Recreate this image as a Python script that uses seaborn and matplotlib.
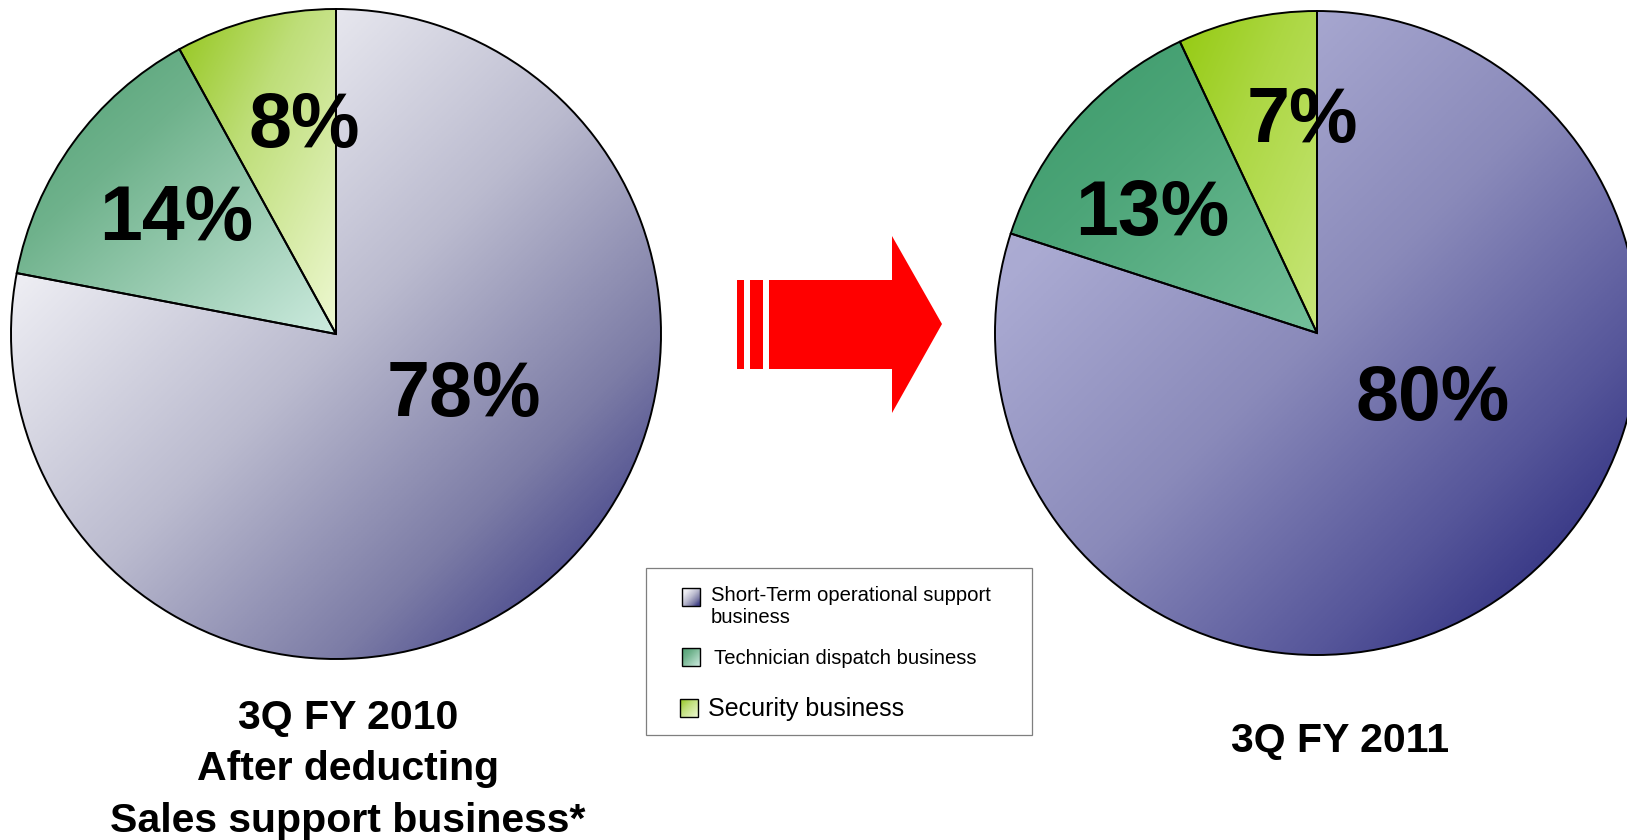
import numpy as np
import pandas as pd
import matplotlib
matplotlib.use("Agg")
import matplotlib.pyplot as plt
import seaborn as sns
from matplotlib.colors import LinearSegmentedColormap
from matplotlib.patches import Rectangle, Polygon

# ---------------- data ----------------
categories = ["Short-Term operational support business",
              "Technician dispatch business",
              "Security business"]
legend_labels = ["Short-Term operational support\nbusiness",
                 "Technician dispatch business",
                 "Security business"]
share_2010 = [78, 14, 8]
share_2011 = [80, 13, 7]
title_2010 = ["3Q FY 2010", "After deducting", "Sales support business*"]
title_2011 = ["3Q FY 2011"]

df = pd.DataFrame({"category": categories, "FY2010": share_2010, "FY2011": share_2011})

# ---------------- style ----------------
sns.set_theme(style="white")
plt.rcParams["font.family"] = ["Liberation Sans", "DejaVu Sans"]

W, H = 1627, 840
fig = plt.figure(figsize=(W / 100, H / 100), dpi=100)
fig.patch.set_facecolor("white")


def px_axes(left, top, w, h):
    return fig.add_axes([left / W, 1 - (top + h) / H, w / W, h / H])


def cmap_from(stops):
    return LinearSegmentedColormap.from_list("g", stops)


# gradient colour stops (PowerPoint-like diagonal fills)
grad_2010 = [
    [(0.0, "#F6F6F9"), (0.22, "#ECECF2"), (0.5, "#BBBBCF"), (0.75, "#7C7CA6"), (0.9, "#44448A"), (1.0, "#383884")],
    [(0.0, "#4E9F72"), (0.35, "#6FB28C"), (1.0, "#CDEBDF")],
    [(0.0, "#94C61C"), (0.4, "#BEDE78"), (1.0, "#EEF8D2")],
]
grad_2011 = [
    [(0.0, "#B4B4D8"), (0.22, "#AAAAD2"), (0.5, "#8A8ABA"), (0.75, "#56569A"), (0.92, "#2C2C7E"), (1.0, "#28287A")],
    [(0.0, "#3A9868"), (0.4, "#4CA578"), (1.0, "#74C09A")],
    [(0.0, "#94CA10"), (0.4, "#ACD742"), (1.0, "#C8E67A")],
]


def gradient_image(cmap, n=300):
    u = np.linspace(0, 1, n)
    X, Y = np.meshgrid(u, u)  # Y: 0 at top row
    t = (X + Y) / 2.0
    return cmap(t)


def fill_gradient(ax, patch, cmap, extent=None):
    if extent is None:
        v = patch.get_path().vertices
        x0, y0 = v.min(axis=0)
        x1, y1 = v.max(axis=0)
        extent = (x0, x1, y0, y1)
    img = gradient_image(cmap)
    im = ax.imshow(img, extent=extent, origin="upper", aspect="auto",
                   zorder=patch.get_zorder() - 0.5, interpolation="bilinear")
    im.set_clip_path(patch)
    return im


def draw_pie(ax, values, grads, labels_xy):
    wedges, _ = ax.pie(values, startangle=90, counterclock=False, radius=1,
                       wedgeprops=dict(edgecolor="black", linewidth=1.4))
    for w, g in zip(wedges, grads):
        w.set_facecolor("none")
        w.set_zorder(3)
        fill_gradient(ax, w, cmap_from(g))
    for v, (x, y) in zip(values, labels_xy):
        ax.text(x, y, f"{v}%", ha="center", va="baseline", fontsize=55.5,
                fontweight="bold", color="black", zorder=5)
    ax.set_xlim(-1.01, 1.01)
    ax.set_ylim(-1.01, 1.01)
    ax.set_aspect("equal")
    ax.axis("off")


# layout: pie label anchor positions (in pie radius units)
lab_2010 = [(0.394, -0.252), (-0.492, 0.289), (-0.098, 0.575)]
lab_2011 = [(0.36, -0.269), (-0.513, 0.305), (-0.044, 0.592)]

r1, c1 = 325, (336, 334)
ax1 = px_axes(c1[0] - r1 * 1.01, c1[1] - r1 * 1.01, 2 * r1 * 1.01, 2 * r1 * 1.01)
draw_pie(ax1, df["FY2010"].tolist(), grad_2010, lab_2010)

r2, c2 = 322, (1317, 333)
ax2 = px_axes(c2[0] - r2 * 1.01, c2[1] - r2 * 1.01, 2 * r2 * 1.01, 2 * r2 * 1.01)
draw_pie(ax2, df["FY2011"].tolist(), grad_2011, lab_2011)

# ---------------- overlay (pixel coords) ----------------
ov = px_axes(0, 0, W, H)
ov.patch.set_visible(False)
ov.set_xlim(0, W)
ov.set_ylim(H, 0)
ov.axis("off")

# arrow
red = "#FF0000"
ov.add_patch(Rectangle((737, 280), 7, 89, facecolor=red, edgecolor="none"))
ov.add_patch(Rectangle((750, 280), 13, 89, facecolor=red, edgecolor="none"))
ov.add_patch(Polygon([(769, 280), (892, 280), (892, 236), (942, 324),
                      (892, 413), (892, 369), (769, 369)], closed=True,
                     facecolor=red, edgecolor="none"))

# legend
ov.add_patch(Rectangle((646, 568), 386, 167, fill=False, edgecolor="#7F7F7F", linewidth=0.9))
sq = [(682, 588, 18), (682, 648, 18), (680, 699, 18)]
text_pos = [(711, 601), (714, 664), (708, 716)]
text_size = [14.6, 14.6, 18]
for (sx, sy, s), g, lab, (tx, ty), fs in zip(sq, grad_2010, legend_labels, text_pos, text_size):
    box = Rectangle((sx, sy), s, s, facecolor="none", edgecolor="black", linewidth=1.0, zorder=4)
    ov.add_patch(box)
    im = ov.imshow(gradient_image(cmap_from(g), 60), extent=(sx, sx + s, sy + s, sy),
                   origin="upper", aspect="auto", zorder=3)
    for i, line in enumerate(lab.split("\n")):
        ov.text(tx, ty + i * 22, line, ha="left", va="baseline", fontsize=fs, color="black")

# titles
for i, line in enumerate(title_2010):
    ov.text(348, 729 + i * 51.5, line, ha="center", va="baseline", fontsize=29.5,
            fontweight="bold", color="black")
for i, line in enumerate(title_2011):
    ov.text(1340, 752 + i * 51.5, line, ha="center", va="baseline", fontsize=29.5,
            fontweight="bold", color="black")

ov.set_xlim(0, W)
ov.set_ylim(H, 0)

fig.savefig("out.png", dpi=100, facecolor="white")
